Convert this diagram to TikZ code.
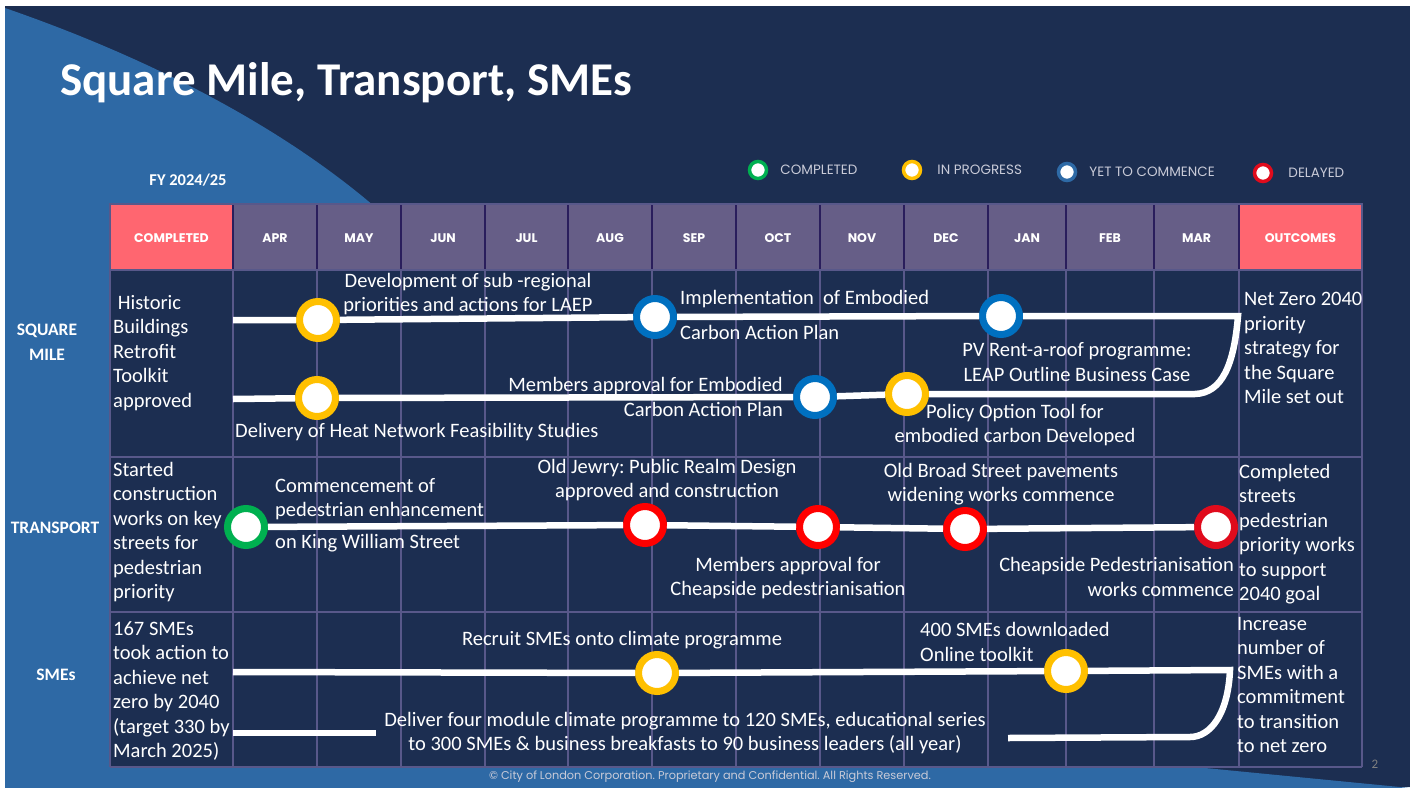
\documentclass[tikz,border=0pt]{standalone}
\usepackage{fontspec}
\setmainfont{Carlito}
\newfontfamily\capsfont{Poppins}
\usetikzlibrary{positioning}

\definecolor{navy}{HTML}{1C2E51}
\definecolor{sideblue}{HTML}{2E69A5}
\definecolor{monthfill}{HTML}{665E87}
\definecolor{pinkfill}{HTML}{FF6670}
\definecolor{gridline}{HTML}{58588A}
\definecolor{sepline}{HTML}{2A1E5C}
\definecolor{ringyellow}{HTML}{FFC000}
\definecolor{ringblue}{HTML}{0070C0}
\definecolor{keyblue}{HTML}{2E6AA6}
\definecolor{ringgreen}{HTML}{00B050}
\definecolor{ringred}{HTML}{FF0000}
\definecolor{darkred}{HTML}{E00B1C}
\definecolor{keytext}{HTML}{C9CBD8}

\begin{document}
\frenchspacing
\begin{tikzpicture}[x=1pt, y=-1pt,
    every node/.style={text=white, inner sep=0pt},
    milestone/.style={circle, draw, fill=white, line width=7pt,
        minimum size=37pt},
    key/.style={circle, draw, fill=white, line width=3.5pt,
        minimum size=17pt},
    keylabel/.style={font=\capsfont\fontsize{13.5}{15}\selectfont,
        text=keytext},
    track/.style={white, line width=6.5pt},
    note/.style={font=\fontsize{20.5}{24.5}\selectfont, align=center},
    cellnote/.style={font=\fontsize{20.5}{24.5}\selectfont, align=left,
        anchor=west},
    headcell/.style={font=\capsfont\bfseries\fontsize{12.5}{14}\selectfont},
    rowlabel/.style={font=\bfseries\fontsize{17.5}{25}\selectfont,
        align=center}]

    \useasboundingbox (0,0) rectangle (1410,787);

    % background
    \fill[white] (0,0) rectangle (1410,787);
    \fill[navy] (5,6) rectangle (1410,787);
    \fill[sideblue] (5,8) .. controls (170,65) and (330,150) .. (430,260)
        -- (430,787) -- (5,787) -- cycle;
    \fill[sideblue] (5,767) -- (1195,767) -- (1410,788) -- (5,788) -- cycle;
    \fill[navy] (110,270) rectangle (1362,767);

    \node[anchor=west, font=\bfseries\fontsize{47}{54}\selectfont]
        (title) at (60,83) {Square Mile, Transport, SMEs};
    \node[font=\bfseries\fontsize{16.5}{19}\selectfont] (fy) at (188,180)
        {FY 2024/25};

    % legend
    \node[key, draw=ringgreen] (kdone) at (758,170) {};
    \node[keylabel, right=12pt of kdone] (ldone) {COMPLETED};
    \node[key, draw=ringyellow] (kprog) at (912,170) {};
    \node[keylabel, right=15pt of kprog] (lprog) {IN PROGRESS};
    \node[key, draw=keyblue] (kwait) at (1067,172) {};
    \node[keylabel, right=12pt of kwait] (lwait) {YET TO COMMENCE};
    \node[key, draw=darkred] (klate) at (1263,173) {};
    \node[keylabel, right=15pt of klate] (llate) {DELAYED};

    % header row
    \fill[pinkfill] (110,204) rectangle (233,270);
    \fill[monthfill] (233,204) rectangle (1239,270);
    \fill[pinkfill] (1239,204) rectangle (1362,270);
    \node[headcell] (hdone) at (171.5,238) {COMPLETED};
    \node[headcell] (hout) at (1300.5,238) {OUTCOMES};
    \foreach \xa/\xb/\lab in {233/317/APR, 317/401/MAY, 401/485/JUN,
        485/568/JUL, 568/652/AUG, 652/736/SEP, 736/820/OCT, 820/904/NOV,
        904/988/DEC, 988/1066/JAN, 1066/1154/FEB, 1154/1239/MAR}
        \node[headcell] (h\lab) at ({(\xa+\xb)/2},238) {\lab};

    % grid
    \foreach \gx in {110,233,317,401,485,568,652,736,820,904,988,1066,1154,1239,1362}
        \draw[gridline, line width=1.2pt] (\gx,270) -- (\gx,767);
    \foreach \gy in {270,457,612,767}
        \draw[gridline, line width=1.2pt] (110,\gy) -- (1362,\gy);
    \draw[gridline, line width=1.2pt] (110,204) rectangle (1362,270);
    \foreach \gx in {233,317,401,485,568,652,736,820,904,988,1066,1154,1239}
        \draw[sepline, line width=2pt] (\gx,205) -- (\gx,269);

    \node[rowlabel] (rsquare) at (47,342) {SQUARE\\MILE};
    \node[rowlabel] (rtransport) at (55,528) {TRANSPORT};
    \node[rowlabel] (rsme) at (56,675) {SMEs};

    % square mile
    \coordinate (sqstart) at (233,320);
    \node[milestone, draw=ringyellow] (sqlaep) at (318,320) {};
    \node[milestone, draw=ringblue] (sqplan) at (655,317) {};
    \node[milestone, draw=ringblue] (sqroof) at (1001,316) {};
    \coordinate (sqcorner) at (1238,316);
    \coordinate (sqturn) at (1195,394);
    \node[milestone, draw=ringyellow] (sqtool) at (907,394) {};
    \node[milestone, draw=ringblue] (sqapprove) at (815,397) {};
    \node[milestone, draw=ringyellow] (sqheat) at (317,398) {};
    \coordinate (sqback) at (233,399);
    \draw[track] (sqstart) -- (sqlaep) -- (sqplan) -- (sqroof) -- (sqcorner)
        .. controls (1234,365) and (1222,393) .. (sqturn) -- (sqtool)
        -- (sqapprove) -- (sqheat) -- (sqback);

    \node[cellnote] (sqdone) at (113,353)
        {\ Historic\\Buildings\\Retrofit\\Toolkit\\approved};
    \node[note] (nlaep) at (468,294)
        {Development of sub -regional\\priorities and actions for LAEP};
    \node[note, anchor=west] (nplana) at (680,299)
        {Implementation~ of Embodied};
    \node[note, anchor=west] (nplanb) at (680,332) {Carbon Action Plan};
    \node[note] (nroof) at (1077,362)
        {PV Rent-a-roof programme:\\LEAP Outline Business Case};
    \node[note, anchor=west] (nheat) at (235,432)
        {Delivery of Heat Network Feasibility Studies};
    \node[note, align=right, anchor=east] (napprove) at (783,397)
        {Members approval for Embodied\\Carbon Action Plan};
    \node[note] (ntool) at (1015,425)
        {Policy Option Tool for\\embodied carbon Developed};
    \node[cellnote] (sqout) at (1244,348)
        {Net Zero 2040\\priority\\strategy for\\the Square\\Mile set out};

    % transport
    \node[milestone, draw=ringgreen] (trking) at (246,527) {};
    \node[milestone, draw=ringred] (trjewry) at (645,525) {};
    \node[milestone, draw=ringred] (trmembers) at (818,527) {};
    \node[milestone, draw=ringred] (trbroad) at (965,529) {};
    \node[milestone, draw=darkred] (trcheap) at (1216,527) {};
    \draw[track] (trking) -- (trjewry) -- (trmembers) -- (trbroad) -- (trcheap);

    \node[cellnote] (trdone) at (113,532)
        {Started\\construction\\works on key\\streets for\\pedestrian\\priority};
    \node[note, align=left, anchor=west] (nkinga) at (275,499)
        {Commencement of\\pedestrian enhancement};
    \node[note, anchor=west] (nkingb) at (275,543) {on King William Street};
    \node[note] (njewry) at (667,480)
        {Old Jewry: Public Realm Design\\approved and construction};
    \node[note] (nmembers) at (788,578)
        {Members approval for\\Cheapside pedestrianisation};
    \node[note] (nbroad) at (1001,484)
        {Old Broad Street pavements\\widening works commence};
    \node[note, align=right, anchor=east] (ncheap) at (1234,577)
        {Cheapside Pedestrianisation\\works commence};
    \node[cellnote] (trout) at (1239,534)
        {Completed\\streets\\pedestrian\\priority works\\to support\\2040 goal};

    % smes
    \coordinate (smstart) at (233,672);
    \node[milestone, draw=ringyellow] (smrecruit) at (657,673) {};
    \node[milestone, draw=ringyellow] (smkit) at (1066,671) {};
    \coordinate (smcorner) at (1230,670);
    \coordinate (smturn) at (1190,737);
    \coordinate (smback) at (1008,738);
    \draw[track] (smstart) -- (smrecruit) -- (smkit) -- (smcorner)
        .. controls (1228,715) and (1210,737) .. (smturn) -- (smback);
    \coordinate (smlowa) at (233,733);
    \coordinate (smlowb) at (376,733);
    \draw[track] (smlowa) -- (smlowb);

    \node[cellnote] (smdone) at (113,691)
        {167 SMEs\\took action to\\achieve net\\zero by 2040\\(target 330 by\\March 2025)};
    \node[note] (nrecruit) at (622,640) {Recruit SMEs onto climate programme};
    \node[note, align=left, anchor=west] (nkit) at (920,642)
        {400 SMEs downloaded\\Online toolkit};
    \node[note] (ndeliver) at (685,733)
        {Deliver four module climate programme to 120 SMEs, educational series\\to 300 SMEs \& business breakfasts to 90 business leaders (all year)};
    \node[cellnote] (smout) at (1237,685)
        {Increase\\number of\\SMEs with a\\commitment\\to transition\\to net zero};

    % footer
    \node[font=\capsfont\fontsize{11.3}{13}\selectfont, text=keytext] (foot)
        at (710,777) {© City of London Corporation. Proprietary and Confidential. All Rights Reserved.};
    \node[font=\fontsize{13}{15}\selectfont, text=gray] (pageno) at (1375,764) {2};
\end{tikzpicture}
\end{document}
